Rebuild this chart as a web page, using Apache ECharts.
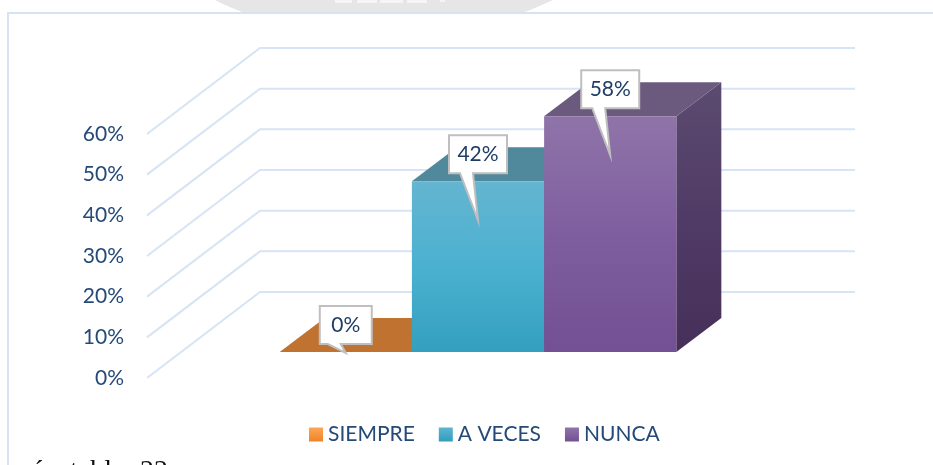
<!DOCTYPE html>
<html>
<head>
<meta charset="utf-8">
<style>html,body{margin:0;padding:0;background:#fff;overflow:hidden}#c{width:933px;height:465px}</style>
<script src="https://cdn.jsdelivr.net/npm/echarts@6/dist/echarts.min.js"></script>
</head>
<body>
<div id="c"></div>
<script>
const categories = [''];
const seriesNames = ['SIEMPRE', 'A VECES', 'NUNCA'];
const seriesValues = [0, 42, 58];
const tickValues = [0, 10, 20, 30, 40, 50, 60];

const FONT = 'Lato, "Noto Sans", sans-serif';
const TEXT = '#254a78';
const LG = (stops) => new echarts.graphic.LinearGradient(0, 0, 0, 1,
  stops.map((c, i) => ({ offset: i / (stops.length - 1), color: c })));

const palette = [
  { legend: ['#fda557', '#ee8526'], front: ['#c07230', '#c07230'], top: '#c07230', side: ['#a8622a', '#a8622a'] },
  { legend: ['#5cb6d1', '#329dbe'], front: ['#64b5d0', '#4bb1d0', '#349fbf'], top: '#4f899b', side: ['#3f7a8c', '#2f6a7c'] },
  { legend: ['#8f74a9', '#725093'], front: ['#8f74a9', '#7f5e9f', '#725093'], top: '#6b5a7e', side: ['#5c4b70', '#503b66', '#46305a'] }
];

// oblique projection: floor depth of the whole plot, bar plane inset and bar depth
const WALL = [113, -86], INSET = [33.5, -26], DEPTH = [45, -34];
const GAP_UNITS = 4.5;

function renderGrid(params, api) {
  const c = api.coord([0, api.value(1)]);
  const band = api.size([1, 0])[0];
  const xL = c[0] - band / 2;
  const pts = [[xL, c[1]], [xL + WALL[0], c[1] + WALL[1]], [xL + WALL[0] + band, c[1] + WALL[1]]];
  return { type: 'polyline', silent: true, shape: { points: pts },
    style: { stroke: '#d7e4f5', lineWidth: 2, fill: null } };
}

function makeBar(i) {
  return function (params, api) {
    const c = api.coord([0, api.value(1)]);
    const base = api.coord([0, 0]);
    const band = api.size([1, 0])[0];
    const w = band / GAP_UNITS;
    const cx = c[0] + INSET[0] + (i - 1) * w;
    const x0 = cx - w / 2, x1 = cx + w / 2;
    const yT = c[1] + INSET[1], yB = base[1] + INSET[1];
    const p = palette[i];
    const dx = DEPTH[0], dy = DEPTH[1];
    const kids = [];
    kids.push({ type: 'polygon', shape: { points: [[x1, yT], [x1 + dx, yT + dy], [x1 + dx, yB + dy], [x1, yB]] },
      style: { fill: LG(p.side) } });
    kids.push({ type: 'polygon', shape: { points: [[x0, yT], [x0 + dx, yT + dy], [x1 + dx, yT + dy], [x1, yT]] },
      style: { fill: p.top } });
    if (yB > yT) {
      kids.push({ type: 'rect', shape: { x: x0, y: yT, width: w, height: yB - yT }, style: { fill: LG(p.front) } });
    }
    // data-label callout
    const label = Math.round(api.value(1)) + '%';
    const hw = (40 + 6 * label.length) / 2;
    const boxT = yT - 46, boxB = boxT + 38;
    const tipY = Math.min(yT + 39, yB + 1);
    kids.push({ type: 'polygon', z2: 10,
      shape: { points: [[cx - hw, boxT], [cx + hw, boxT], [cx + hw, boxB], [cx - 5, boxB], [cx, tipY], [cx - 18, boxB], [cx - hw, boxB]] },
      style: { fill: '#fff', stroke: '#bfbfbf', lineWidth: 2 } });
    kids.push({ type: 'text', z2: 11,
      style: { x: cx, y: (boxT + boxB) / 2, text: label, align: 'center', verticalAlign: 'middle',
        fill: '#1f3d66', fontSize: 21, fontFamily: FONT } });
    return { type: 'group', children: kids };
  };
}

const series = [{
  type: 'custom', name: 'grid', silent: true, z: 1,
  renderItem: renderGrid,
  data: tickValues.map(v => [0, v]),
  encode: { x: 0, y: 1 }
}].concat(seriesNames.map((name, i) => ({
  type: 'custom', name, z: 2 + i,
  renderItem: makeBar(i),
  itemStyle: { color: new echarts.graphic.LinearGradient(0, 0, 0, 1,
    [{ offset: 0, color: palette[i].legend[0] }, { offset: 1, color: palette[i].legend[1] }]) },
  data: [[0, seriesValues[i]]],
  encode: { x: 0, y: 1 }
})));

const chart = echarts.init(document.getElementById('c'), null, { renderer: 'canvas' });
chart.setOption({
  animation: false,
  backgroundColor: '#fff',
  grid: { left: 147, top: 134, width: 595, height: 244, containLabel: false },
  xAxis: { type: 'category', data: categories, show: false },
  yAxis: {
    type: 'value', min: 0, max: 60, interval: 10,
    axisLine: { show: false }, axisTick: { show: false }, splitLine: { show: false },
    axisLabel: { formatter: '{value}%', color: TEXT, fontSize: 21, fontFamily: FONT, margin: 23, padding: [2, 0, 0, 0] }
  },
  legend: {
    data: seriesNames.map(n => ({ name: n, icon: 'rect' })),
    left: 304, top: 419, itemWidth: 14, itemHeight: 14, itemGap: 24,
    textStyle: { color: TEXT, fontSize: 21, fontFamily: FONT },
    selectedMode: false
  },
  tooltip: { show: false },
  series,
  graphic: [
    { type: 'polygon', silent: true, z: -2,
      shape: { points: [[215, 0], [223, 4], [232, 8], [242, 12], [525, 12], [535, 8], [544, 4], [553, 0]] },
      style: { fill: '#e6e6e6' } },
    { type: 'rect', silent: true, z: -1, shape: { x: 335, y: 0, width: 17, height: 3 }, style: { fill: '#f5f5f5' } },
    { type: 'rect', silent: true, z: -1, shape: { x: 357, y: 0, width: 20, height: 3 }, style: { fill: '#f5f5f5' } },
    { type: 'rect', silent: true, z: -1, shape: { x: 380, y: 0, width: 23, height: 3 }, style: { fill: '#f5f5f5' } },
    { type: 'rect', silent: true, z: -1, shape: { x: 407, y: 0, width: 20, height: 3 }, style: { fill: '#f5f5f5' } },
    { type: 'rect', silent: true, z: -1, shape: { x: 440, y: 0, width: 5, height: 2 }, style: { fill: '#f5f5f5' } },
    { type: 'polyline', silent: true, z: -1,
      shape: { points: [[8, 465], [8, 13], [933, 13]] },
      style: { stroke: '#d5e3f5', lineWidth: 2, fill: null } },
    { type: 'text', silent: true, style: { x: 31, y: 458, text: 'ó', fontSize: 28, fontFamily: '"Liberation Serif", serif', fill: '#111' } },
    { type: 'text', silent: true, style: { x: 70, y: 458, text: 'tabla', fontSize: 28, fontFamily: '"Liberation Serif", serif', fill: '#111' } },
    { type: 'text', silent: true, style: { x: 140, y: 458, text: '22', fontSize: 28, fontFamily: '"Liberation Serif", serif', fill: '#111' } }
  ]
});
</script>
</body>
</html>
